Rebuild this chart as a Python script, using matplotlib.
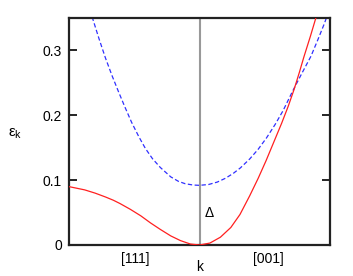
import numpy as np
import matplotlib
matplotlib.use("Agg")
import matplotlib.pyplot as plt

plt.rcParams['font.family'] = ['Liberation Sans', 'DejaVu Sans']
plt.rcParams['mathtext.fontset'] = 'custom'
plt.rcParams['mathtext.rm'] = 'Liberation Sans'

# lower band (red, solid): k runs from [111] (-1) through Gamma (0) to [001] (+1)
k_red = [-1.0, -0.94, -0.88, -0.80, -0.72, -0.66, -0.61, -0.53, -0.45, -0.375,
         -0.30, -0.22, -0.146, -0.07, 0.0,
         0.08, 0.16, 0.24, 0.31, 0.385, 0.45, 0.51, 0.57, 0.63, 0.68,
         0.725, 0.765, 0.80, 0.85, 0.89, 0.92]
e_red = [0.090, 0.0875, 0.085, 0.080, 0.074, 0.069, 0.064, 0.055, 0.045, 0.034,
         0.024, 0.014, 0.0068, 0.0015, 0.0,
         0.003, 0.012, 0.027, 0.047, 0.076, 0.103, 0.130, 0.159, 0.188, 0.214,
         0.240, 0.266, 0.290, 0.322, 0.349, 0.369]

# upper band (blue, dashed)
k_blue = [-0.84, -0.82, -0.77, -0.72, -0.67, -0.62, -0.57, -0.52, -0.465, -0.415,
          -0.36, -0.30, -0.22, -0.16, -0.11, -0.05, 0.0,
          0.07, 0.136, 0.2, 0.26, 0.314, 0.385, 0.45, 0.513, 0.58, 0.64,
          0.713, 0.78, 0.854, 0.91, 0.956, 0.99]
e_blue = [0.362, 0.350, 0.318, 0.288, 0.261, 0.236, 0.212, 0.189, 0.167, 0.149,
          0.133, 0.1195, 0.105, 0.098, 0.0945, 0.0925, 0.092,
          0.0933, 0.097, 0.103, 0.1106, 0.119, 0.1327, 0.1477, 0.165, 0.186, 0.207,
          0.237, 0.263, 0.291, 0.318, 0.341, 0.360]

xtick_pos = [-0.49, 0.53]
xtick_labels = ['[111]', '[001]']
ytick_pos = [0, 0.1, 0.2, 0.3]
ytick_labels = ['0', '0.1', '0.2', '0.3']

fig = plt.figure(figsize=(3.53, 2.76), dpi=100)
ax = fig.add_axes([69/353, 31/276, 261/353, 227/276])

ax.axvline(0, color='#999999', lw=1.5, zorder=1)
ax.plot(k_blue, e_blue, color='#3030ff', lw=0.9, dashes=(3.5, 2), zorder=2)
ax.plot(k_red, e_red, color='#ff2020', lw=0.9, zorder=3)

ax.set_xlim(-1, 1)
ax.set_ylim(0, 0.35)

ax.set_xticks(xtick_pos)
ax.set_xticklabels(xtick_labels, fontsize=10)
ax.tick_params(axis='x', length=0, pad=5)
ax.set_yticks(ytick_pos)
ax.set_yticklabels(ytick_labels, fontsize=10)
ax.tick_params(axis='y', direction='in', length=6, width=1.2, right=True, pad=5)

for s in ax.spines.values():
    s.set_linewidth(1.6)
    s.set_color('#222222')

ax.text(0.038, 0.049, 'Δ', fontsize=10, va='center', ha='left')
ax.text(0.5, -22/227, 'k', transform=ax.transAxes, fontsize=10, ha='center', va='center')
fig.text(15/353, 1 - 134/276, 'ε$_\\mathregular{k}$', fontsize=11, ha='center', va='center')

fig.savefig('out.png', dpi=100)
